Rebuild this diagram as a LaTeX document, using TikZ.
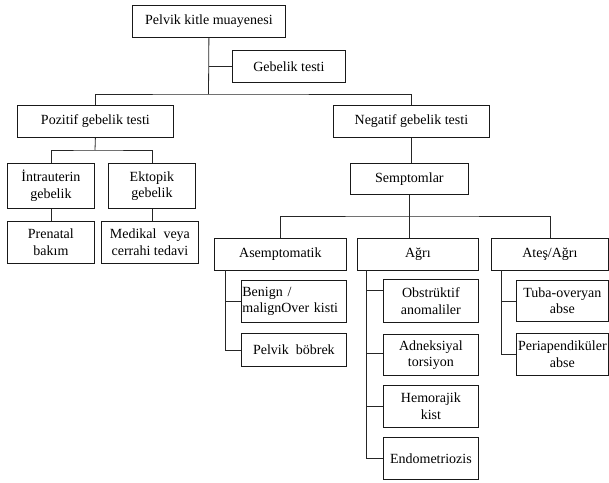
\documentclass[tikz,border=0pt]{standalone}
\usepackage{fontspec}
\setmainfont{Liberation Serif}
\begin{document}
\begin{tikzpicture}[x=1pt,y=-1pt,
  box/.style={draw=black!90, line width=0.8pt, inner sep=0pt, align=center, anchor=north west,
    font=\fontsize{14}{16.5}\selectfont},
  conn/.style={draw=black!85, line width=0.8pt}]
\useasboundingbox (0,0) rectangle (609,482);
% level 0
\node[box, minimum width=153pt, minimum height=32pt] (top) at (132,5) {Pelvik kitle muayenesi};
\node[box, minimum width=113pt, minimum height=32pt] (geb) at (232,50) {Gebelik testi};
% level 1
\node[box, minimum width=156pt, minimum height=32pt] (poz) at (17,105) {Pozitif gebelik testi};
\node[box, minimum width=156pt, minimum height=32pt] (neg) at (333,105) {Negatif gebelik testi};
% positive branch
\node[box, minimum width=87pt, minimum height=45pt] (intra) at (7,163) {İntrauterin\\gebelik};
\node[box, minimum width=87pt, minimum height=45pt] (ekt) at (108,163) {Ektopik\\gebelik};
\node[box, minimum width=87pt, minimum height=42pt] (pren) at (7,221) {Prenatal\\bakım};
\node[box, minimum width=97pt, minimum height=42pt] (med) at (101,221) {Medikal\ \ veya\\cerrahi tedavi};
% negative branch
\node[box, minimum width=118pt, minimum height=31pt] (semp) at (350,163) {Semptomlar};
\node[box, minimum width=132pt, minimum height=32pt] (asem) at (214,238) {Asemptomatik};
\node[box, minimum width=121pt, minimum height=32pt] (agri) at (357,238) {Ağrı};
\node[box, minimum width=117pt, minimum height=32pt] (ates) at (491,238) {Ateş/Ağrı};
% asemptomatik children
\node[box, minimum width=105pt, minimum height=42pt, text width=103pt, align=left] (ben) at (241,280) {Benign /\\malignOver kisti};
\node[box, minimum width=105pt, minimum height=33pt] (pel) at (241,333) {Pelvik\ \ böbrek};
% agri children
\node[box, minimum width=95pt, minimum height=43pt] (obs) at (383,279) {Obstrüktif\\anomaliler};
\node[box, minimum width=95pt, minimum height=41pt] (adn) at (383,334) {Adneksiyal\\torsiyon};
\node[box, minimum width=95pt, minimum height=42pt] (hem) at (383,385) {Hemorajik\\kist};
\node[box, minimum width=95pt, minimum height=42pt] (endo) at (383,437) {Endometriozis};
% ates children
\node[box, minimum width=92pt, minimum height=41pt] (tuba) at (516,280) {Tuba-overyan\\abse};
\node[box, minimum width=92pt, minimum height=42pt] (peri) at (516,333) {Periapendiküler\\abse};
% connectors
\coordinate (b1) at (208.5,94);
\draw[conn] (top.south) -- (b1);
\draw[conn] (top.south |- geb.west) -- (geb.west);
\draw[conn] (poz.north) |- (b1) -| (neg.north);
\coordinate (b2) at (95,150);
\draw[conn] (poz.south) -- (b2);
\draw[conn] (intra.north) |- (b2) -| (ekt.north);
\draw[conn] (intra.south) -- (pren.north);
\draw[conn] (ekt.south) -- (ekt.south |- med.north);
\draw[conn] (neg.south) -- (neg.south |- semp.north);
\coordinate (b3) at (409,216);
\draw[conn] (semp.south) -- (semp.south |- agri.north);
\draw[conn] (asem.north) |- (b3) -| (ates.north);
% trunks
\coordinate (ta) at (225,270);
\draw[conn] (ta) |- (ben.west);
\draw[conn] (ta) |- (pel.west);
\coordinate (tg) at (366,270);
\draw[conn] (tg) |- ([yshift=11pt]obs.west);
\draw[conn] (tg) |- ([yshift=1.5pt]adn.west);
\draw[conn] (tg) |- (hem.west);
\draw[conn] (tg) |- (endo.west);
\coordinate (tt) at (501,270);
\draw[conn] (tt) |- (tuba.west);
\draw[conn] (tt) |- (peri.west);
\end{tikzpicture}
\end{document}
